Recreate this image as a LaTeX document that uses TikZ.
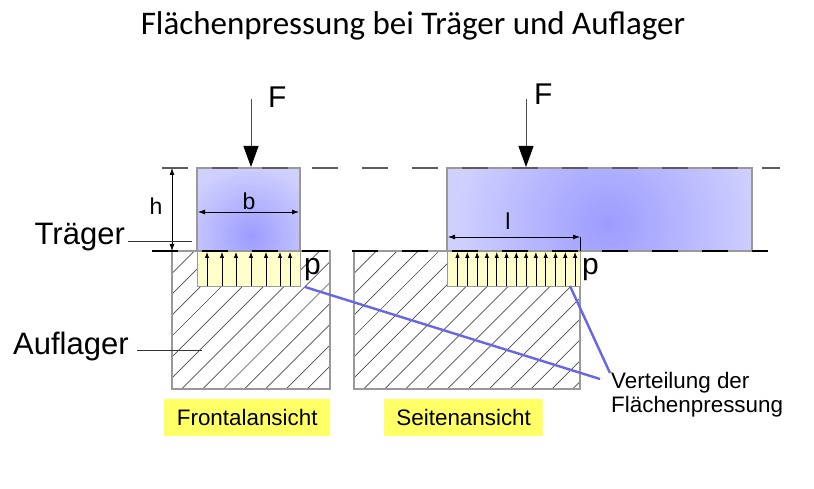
\documentclass[tikz,border=0pt]{standalone}
\usepackage{fontspec}
\setmainfont{Liberation Sans}
\newfontfamily\titlefont{Carlito}
\usetikzlibrary{arrows.meta}
\definecolor{beamin}{HTML}{9C9CFF}
\definecolor{beamout}{HTML}{D0D0FF}
\definecolor{edgegrey}{HTML}{999999}
\definecolor{loadyellow}{HTML}{FFFFCC}
\definecolor{labelyellow}{HTML}{FFFF66}
\definecolor{leaderblue}{HTML}{6666E6}
\pgfdeclareradialshading{beamglow}{\pgfpoint{0bp}{0bp}}{color(0bp)=(beamin); color(20bp)=(beamout); color(50bp)=(beamout)}
\tikzset{
  px/.style={font=\fontsize{#1}{24}\selectfont,inner sep=0pt},
  outline/.style={draw=edgegrey,line width=1.1pt},
  dimline/.style={black,line width=.8pt,{Latex[length=7pt,width=5pt]}-{Latex[length=7pt,width=5pt]}},
  pressure/.style={black,line width=.8pt,-{Latex[length=6pt,width=4.5pt]}},
  force/.style={black!70,line width=1pt,-{Triangle[length=21pt,width=15pt,color=black]}},
  thinleader/.style={black!80,line width=.7pt},
  blueleader/.style={leaderblue,line width=2.4pt},
  hatch/.style={black!70,line width=.7pt},
  datum/.style={line width=1.2pt,dash pattern=on 26pt off 24pt},
  tag/.style={fill=labelyellow,inner sep=0pt,anchor=north west}
}
\begin{document}
\begin{tikzpicture}[x=1pt,y=-1pt]
\useasboundingbox (0,0) rectangle (814,489);
\fill[white] (0,0) rectangle (814,489);
% title
\node[px=30,anchor=base] (title) at (413,35) {\titlefont\fontsize{33}{33}\selectfont Flächenpressung bei Träger und Auflager};
% supports
\begin{scope}
\clip (172,251) rectangle (330,389);
\foreach \k in {-7,...,8} \draw[hatch] ({181.7+20.9*\k},389) -- ++(150,-150);
\end{scope}
\begin{scope}
\clip (354,251) rectangle (580,389);
\foreach \k in {-7,...,12} \draw[hatch] ({363.7+20.9*\k},389) -- ++(150,-150);
\end{scope}
\draw[outline] (172,251) rectangle (330,389);
\draw[outline] (354,251) rectangle (580,389);
% beams
\begin{scope}
\clip (197,168) rectangle (300,251);
\shade[shading=beamglow] (251,236) circle (90);
\end{scope}
\draw[outline] (197,168) rectangle (300,251);
\begin{scope}
\clip (447,168) rectangle (752,251);
\shade[shading=beamglow] (607,224) circle (190);
\end{scope}
\draw[outline] (447,168) rectangle (752,251);
% pressure blocks
\node[draw=edgegrey,fill=loadyellow,line width=1.1pt,minimum width=103pt,minimum height=35pt,inner sep=0pt,anchor=north west] (blockL) at (197,251) {};
\node[draw=edgegrey,fill=loadyellow,line width=1.1pt,minimum width=133pt,minimum height=35pt,inner sep=0pt,anchor=north west] (blockR) at (447,251) {};
\foreach \x in {207,222,236,251,266,280,290} \draw[pressure] (\x,286) -- (\x,252);
\foreach \k in {0,...,12} \draw[pressure] ({457.5+9.8*\k},286) -- ({457.5+9.8*\k},252);
% datum lines
\coordinate (topA) at (162,168); \coordinate (topB) at (780,168);
\coordinate (botA) at (152,251); \coordinate (botB) at (768,251);
\draw[datum,edgegrey!60!black] (topA) -- (topB);
\draw[datum,black] (botA) -- (botB);
% dimensions
\coordinate (hT) at (172,168); \coordinate (hB) at (172,251);
\draw[dimline] (hT) -- (hB);
\draw[dimline] (198,212) -- (299,212);
\draw[dimline] (448,237) -- (580,237);
\draw[black,line width=.8pt] (580,237) -- (580,251);
% forces
\coordinate (f1s) at (251,99); \coordinate (f1e) at (251,167);
\coordinate (f2s) at (526,99); \coordinate (f2e) at (526,167);
\draw[force] (f1s) -- (f1e);
\draw[force] (f2s) -- (f2e);
% leaders
\node[px=31,anchor=base west] (traeger) at (34.5,245) {Träger};
\node[px=31,anchor=base west] (auflager) at (13,354) {Auflager};
\coordinate (tl) at (192,241.5); \coordinate (al) at (202,350.5);
\draw[thinleader] (128,241.5) -- (tl);
\draw[thinleader] (137,350.5) -- (al);
\node[px=22.4,anchor=north west,align=left] (vert) at (611,372) {Verteilung der\\Flächenpressung};
\coordinate (p1) at (305,287); \coordinate (p2) at (570,286);
\coordinate (v1) at (600,379); \coordinate (v2) at (610,373);
\draw[blueleader] (p1) -- (v1);
\draw[blueleader] (p2) -- (v2);
% labels
\node[px=30,anchor=base west] (F1) at (268,108) {F};
\node[px=30,anchor=base west] (F2) at (534,105) {F};
\node[px=23,anchor=base] (h) at (156,215) {h};
\node[px=23,anchor=base] (b) at (249,210) {b};
\node[px=23,anchor=base] (l) at (508,230) {l};
\node[px=30,anchor=base west] (pL) at (304,274) {p};
\node[px=30,anchor=base west] (pR) at (582,274) {p};
\node[tag,minimum width=166pt,minimum height=37pt] (front) at (164,399) {};
\node[px=22.4] at (front.center) {Frontalansicht};
\node[tag,minimum width=159pt,minimum height=37pt] (seite) at (384,399) {};
\node[px=22.4] at (seite.center) {Seitenansicht};
\end{tikzpicture}
\end{document}
